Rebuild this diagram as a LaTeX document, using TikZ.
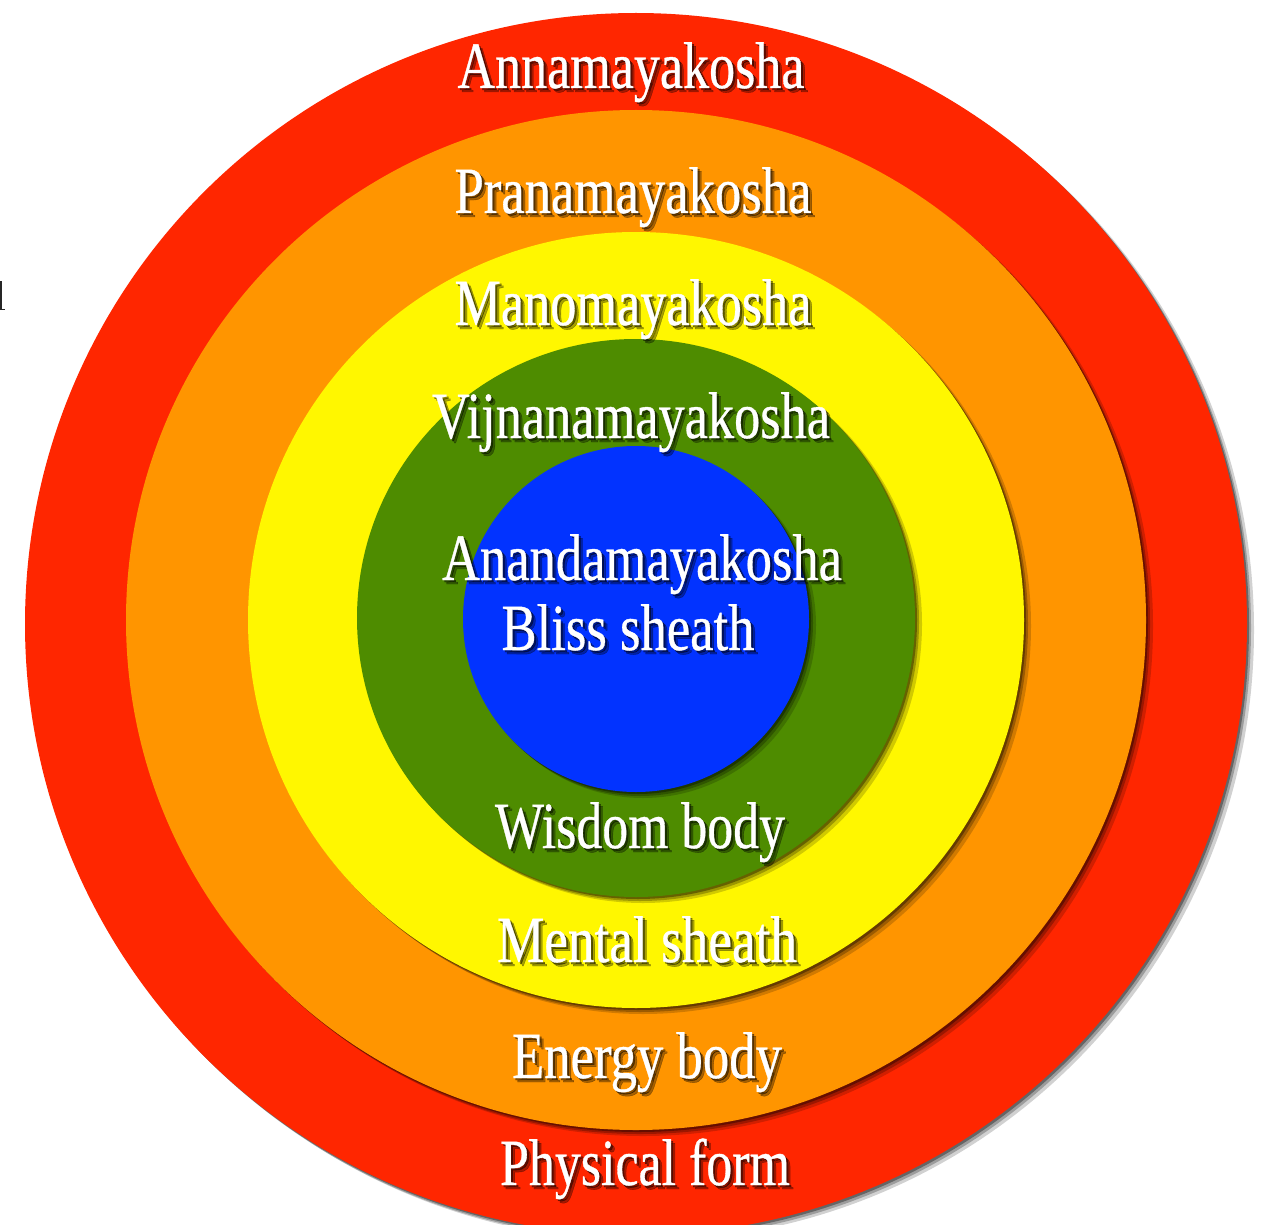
\documentclass[tikz,border=0pt]{standalone}
\usepackage{fontspec}
\setmainfont{Liberation Serif}
\newfontfamily\koshafont[FakeBold=0.6]{Liberation Serif}
\usepackage{graphicx}
\definecolor{kred}{HTML}{FF2600}
\definecolor{korange}{HTML}{FF9500}
\definecolor{kyellow}{HTML}{FFF700}
\definecolor{kgreen}{HTML}{4E8C00}
\definecolor{kblue}{HTML}{0233FF}
\tikzset{
  lbl/.style={anchor=base, inner sep=0pt, font=\koshafont\fontsize{66}{70}\selectfont, text=white},
  shd/.style={lbl, text=black},
}
\newcommand\kosha[5]{%
  \node[shd, opacity=0.35] at (#2+4,#3+4) {\resizebox{#4pt}{\height}{#5}};
  \node[shd, opacity=0.45] at (#2+2,#3+2) {\resizebox{#4pt}{\height}{#5}};
  \node[lbl] (#1) at (#2,#3) {\resizebox{#4pt}{\height}{#5}};
}
\newcommand\ring[4]{% x y r color
  \fill[black, opacity=0.18] (#1+7,#2+6) circle (#3);
  \fill[black, opacity=0.25] (#1+4,#2+4) circle (#3);
  \fill[black, opacity=0.35] (#1+2,#2+2) circle (#3);
  \fill[#4] (#1,#2) circle (#3);
}
\begin{document}
\begin{tikzpicture}[x=1pt, y=-1pt]
\useasboundingbox (0,0) rectangle (1261,1225);
\fill[white] (0,0) rectangle (1261,1225);
\ring{636}{624}{611}{kred}
\ring{636}{620}{510}{korange}
\ring{636}{620}{388}{kyellow}
\ring{636}{618}{279}{kgreen}
\ring{636}{619}{173}{kblue}
% cut-off glyph fragment at left edge
\draw[black!85, line width=1.6pt] (0.8,281) -- (0.8,309);
\draw[black!85, line width=1.4pt] (0,309.5) -- (5,309.5);
\kosha{anna}{631}{88}{347}{Annamayakosha}
\kosha{prana}{633}{213}{357}{Pranamayakosha}
\kosha{mano}{633}{325}{357}{Manomayakosha}
\kosha{vijn}{631}{438}{398}{Vijnanamayakosha}
\kosha{anan}{642}{580}{400}{Anandamayakosha}
\kosha{bliss}{628}{650}{253}{Bliss sheath}
\kosha{wisdom}{640}{848}{290}{Wisdom body}
\kosha{mental}{647}{962}{300}{Mental sheath}
\kosha{energy}{647}{1078}{270}{Energy body}
\kosha{physical}{645}{1185}{290}{Physical form}
\end{tikzpicture}
\end{document}
